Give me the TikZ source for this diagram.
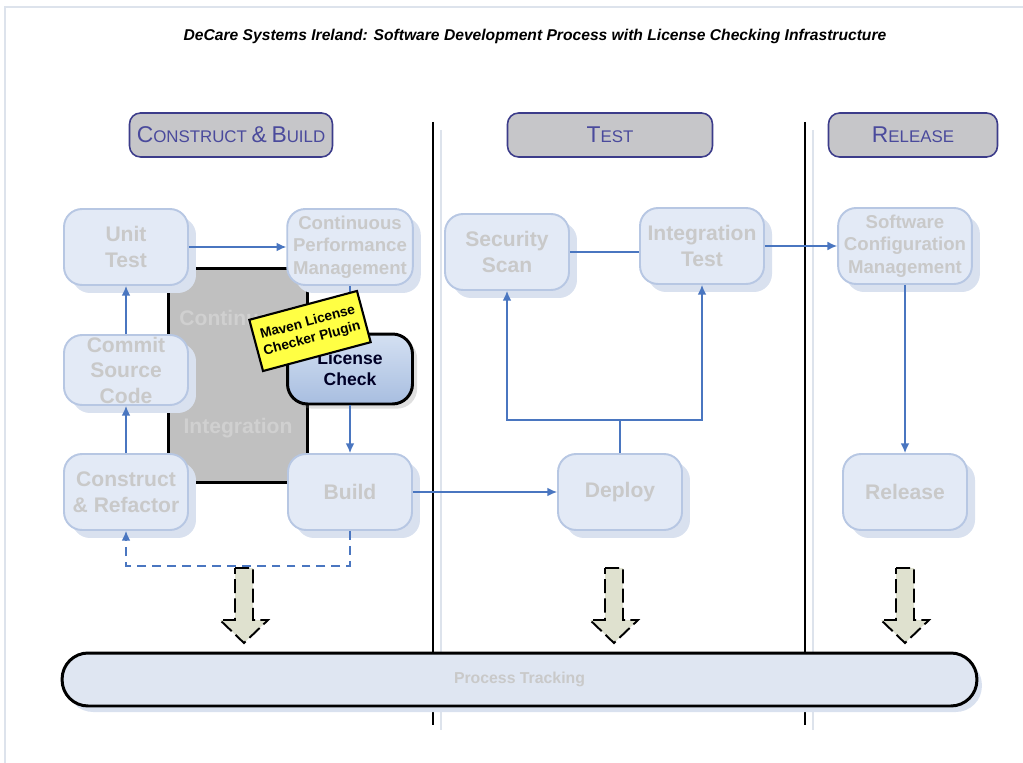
\documentclass[tikz,border=0pt]{standalone}
\usepackage{fontspec}
\setmainfont{Liberation Sans}
\usetikzlibrary{shadows,arrows.meta}
\definecolor{flowblue}{HTML}{4A76C0}
\definecolor{stepfill}{HTML}{E3EAF6}
\definecolor{stepline}{HTML}{B7C7E3}
\definecolor{steptext}{HTML}{C9C9C9}
\definecolor{stepshade}{HTML}{D9E1EF}
\definecolor{headfill}{HTML}{C6C6C9}
\definecolor{headline}{HTML}{3C3C8A}
\definecolor{headtext}{HTML}{4A4A9C}
\definecolor{cigray}{HTML}{C0C0C0}
\definecolor{citext}{HTML}{D0D0D0}
\definecolor{tagyellow}{HTML}{FFFF44}
\definecolor{blockfill}{HTML}{DFE1CF}
\definecolor{checktop}{HTML}{D4E0F2}
\definecolor{checkbot}{HTML}{A8BEE0}
\definecolor{trackfill}{HTML}{DFE6F2}
\definecolor{framegray}{HTML}{DDE3EC}
\newcommand{\capl}[1]{{\fontsize{13}{15}\selectfont #1}}

\begin{document}
\begin{tikzpicture}[x=0.02cm,y=-0.02cm,>={Latex[length=5.5pt,width=5pt]},
  stepbox/.style={draw=stepline,line width=1.1pt,fill=stepfill,rounded corners=0.36cm,
    minimum width=2.48cm,minimum height=1.52cm,align=center,text=steptext,
    font=\bfseries\fontsize{12}{14.5}\selectfont,
    drop shadow={shadow xshift=0.16cm,shadow yshift=-0.16cm,fill=stepshade,opacity=1}},
  longtext/.style={font=\bfseries\fontsize{10.6}{12.8}\selectfont,inner ysep=0pt},
  headbox/.style={draw=headline,line width=0.9pt,fill=headfill,rounded corners=0.22cm,
    minimum height=0.88cm,text=headtext,font=\fontsize{9.6}{11}\selectfont},
  flow/.style={flowblue,line width=0.85pt},
  blockarrow/.style={draw,fill=blockfill,line width=1.1pt,dash pattern=on 8pt off 3pt}]
  \useasboundingbox (0,0) rectangle (1023,763);
  \draw[framegray,line width=1.5pt] (1023,7) -- (5,7) -- (5,763);

  \node[font=\bfseries\itshape\fontsize{8.9}{10}\selectfont] (title) at (535,36)
    {DeCare Systems Ireland: Software Development Process with License Checking Infrastructure};

  \node[headbox,minimum width=4.06cm] (hbuild) at (231,135) {\capl{C}ONSTRUCT \capl{\&} \capl{B}UILD};
  \node[headbox,minimum width=4.1cm] (htest) at (610,135) {\capl{T}EST};
  \node[headbox,minimum width=3.38cm] (hrel) at (913,135) {\capl{R}ELEASE};

  \draw[framegray,line width=1.2pt] (441,130) -- (441,730);
  \draw[framegray,line width=1.2pt] (813,130) -- (813,730);
  \draw[line width=1.6pt] (433,122) -- (433,725);
  \draw[line width=1.6pt] (805,122) -- (805,725);

  \node[draw,line width=1.7pt,fill=cigray,minimum width=2.8cm,minimum height=4.3cm] (ci) at (238,375.5) {};
  \node[text=citext,font=\bfseries\fontsize{12}{14}\selectfont] (cicont) at (238,318) {Continuous};
  \node[text=citext,font=\bfseries\fontsize{12}{14}\selectfont] (ciint) at (238,428) {Integration};

  \node[stepbox] (unit) at (126,247) {Unit\\Test};
  \node[stepbox,longtext] (cpm) at (350,247) {Continuous\\Performance\\Management};
  \node[stepbox,minimum height=1.4cm,inner ysep=0pt] (commit) at (126,370) {Commit\\Source\\Code};
  \node[stepbox] (construct) at (126,492) {Construct\\\& Refactor};
  \node[stepbox] (build) at (350,492) {Build};
  \node[stepbox] (scan) at (507,252) {Security\\Scan};
  \node[stepbox] (itest) at (702,246) {Integration\\Test};
  \node[stepbox] (deploy) at (620,492) {Deploy};
  \node[stepbox,longtext] (scm) at (905,246) {Software\\Configuration\\Management};
  \node[stepbox] (release) at (905,492) {Release};

  \draw[flow,->] (unit) -- (cpm);
  \draw[flow,->] (commit) -- (unit);
  \draw[flow,->] (construct) -- (commit);
  \draw[flow] (cpm) -- (350,330);
  \node[draw,line width=1.7pt,rounded corners=0.4cm,top color=checktop,bottom color=checkbot,
    minimum width=2.5cm,minimum height=1.4cm,align=center,text=black!85!blue,
    font=\bfseries\fontsize{10}{12}\selectfont,drop shadow={opacity=0.25}] (lic) at (350,369) {License\\Check};
  \draw[flow,->] (lic) -- (build);
  \draw[flow,->] (build) -- (deploy);
  \draw[flow,dash pattern=on 5pt off 3.5pt,->] (build.south) -- ++(0,35) -| (construct.south);
  \coordinate (fork) at (620,420);
  \draw[flow] (deploy) -- (fork);
  \draw[flow,->] (fork) -| (scan);
  \draw[flow,->] (fork) -| (itest);
  \draw[flow] (scan.east) -- (scan.east -| itest.west);
  \draw[flow,->] (itest) -- (scm);
  \draw[flow,->] (scm) -- (release);

  \node[draw,line width=1.2pt,fill=tagyellow,rotate=15,minimum width=2.02cm,minimum height=1.06cm,
    align=center,font=\bfseries\fontsize{7.8}{9.5}\selectfont] (tag) at (310,331) {Maven License\\Checker Plugin};

  \foreach \bx in {244,614,905}
    \draw[blockarrow] (\bx-9,568) -- (\bx+9,568) -- (\bx+9,620) -- (\bx+24,620) -- (\bx,643)
      -- (\bx-24,620) -- (\bx-9,620) -- cycle;

  \node[draw,line width=1.7pt,fill=trackfill,rounded corners=0.52cm,minimum width=18.3cm,minimum height=1.06cm,
    text=steptext,font=\bfseries\fontsize{9}{11}\selectfont,
    drop shadow={shadow xshift=0.1cm,shadow yshift=-0.12cm,fill=stepshade,opacity=1}] (track) at (519.5,679.5) {Process Tracking};
\end{tikzpicture}
\end{document}
